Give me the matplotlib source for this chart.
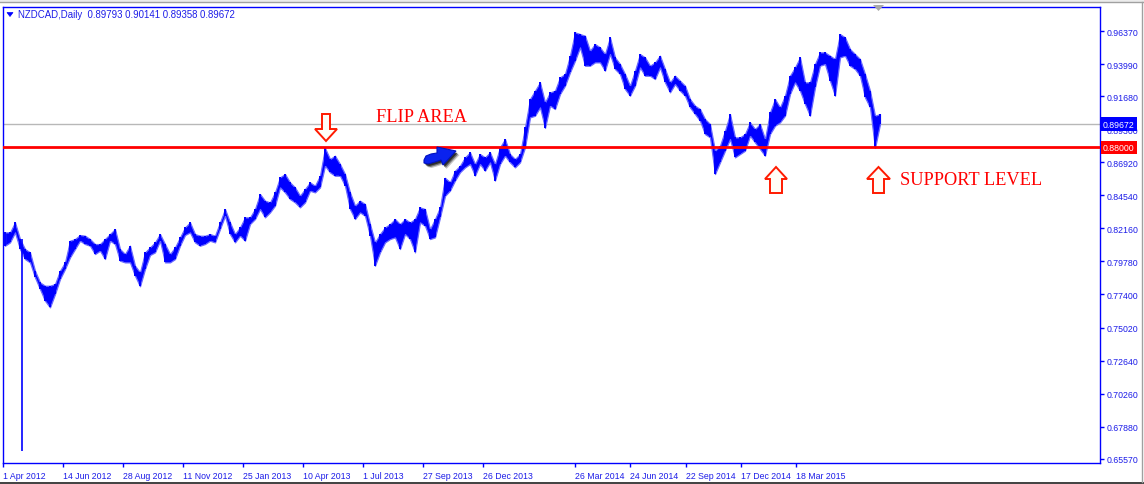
import matplotlib
matplotlib.use('Agg')
import matplotlib.pyplot as plt
import numpy as np
from matplotlib.patches import Polygon, Rectangle
from matplotlib.lines import Line2D
from matplotlib import font_manager

# ---- data (NZDCAD daily, resampled: high / low per group of bars) ----
highs = [0.8187, 0.8187, 0.8259, 0.8139, 0.8067, 0.8043, 0.7911, 0.7827, 0.7803, 0.7803,
         0.7815, 0.7911, 0.7971, 0.8127, 0.8139, 0.8168, 0.8163, 0.8139, 0.8103, 0.8103,
         0.8139, 0.8175, 0.8211, 0.8067, 0.8031, 0.8091, 0.7947, 0.7899, 0.8043, 0.8079,
         0.8115, 0.8175, 0.8103, 0.8031, 0.8079, 0.8151, 0.8223, 0.8259, 0.8175, 0.8163,
         0.8163, 0.8175, 0.8163, 0.8259,
         0.8355, 0.8259, 0.8175, 0.8223, 0.8295, 0.8295, 0.8355, 0.8463, 0.8415, 0.8403,
         0.8475, 0.8583, 0.8607, 0.8547, 0.8511, 0.8451, 0.8499, 0.8547, 0.8523, 0.8595,
         0.8795, 0.8715, 0.8739, 0.8679, 0.8607, 0.8475, 0.8379, 0.8415, 0.8391, 0.8247,
         0.8115, 0.8175, 0.8223, 0.8247, 0.8283, 0.8247, 0.8283, 0.8259, 0.8283, 0.8367,
         0.8355, 0.8211, 0.8283, 0.8367,
         0.8580, 0.8548, 0.8631, 0.8667, 0.8727, 0.8763, 0.8679, 0.8751, 0.8727, 0.8763,
         0.8679, 0.8799, 0.8859, 0.8751, 0.8715, 0.8751, 0.8943, 0.9147, 0.9207, 0.9267,
         0.9123, 0.9195, 0.9207, 0.9303, 0.9327, 0.9459, 0.9627, 0.9615, 0.9603, 0.9495,
         0.9543, 0.9519, 0.9471, 0.9591, 0.9447, 0.9399, 0.9327, 0.9243, 0.9351, 0.9471,
         0.9447, 0.9387, 0.9411, 0.9459,
         0.9363, 0.9267, 0.9315, 0.9279, 0.9243, 0.9147, 0.9099, 0.9075, 0.9003, 0.8967,
         0.8775, 0.8811, 0.8919, 0.9039, 0.8871, 0.8871, 0.8895, 0.8979, 0.8931, 0.8967,
         0.8859, 0.9051, 0.9147, 0.9087, 0.9171, 0.9315, 0.9375, 0.9447, 0.9267, 0.9267,
         0.9399, 0.9483, 0.9483, 0.9459, 0.9435, 0.9615, 0.9591, 0.9507, 0.9471, 0.9435,
         0.9327, 0.9207, 0.9027, 0.9039]
lows = [0.8091, 0.8115, 0.8187, 0.8067, 0.7995, 0.7971, 0.7863, 0.7779, 0.7695, 0.7647,
        0.7743, 0.7851, 0.7923, 0.8007, 0.8067, 0.8127, 0.8103, 0.8091, 0.8031, 0.8055,
        0.7995, 0.8127, 0.8103, 0.7983, 0.7971, 0.7971, 0.7875, 0.7799, 0.7923, 0.8024,
        0.8043, 0.8127, 0.7971, 0.7971, 0.7995, 0.8091, 0.8168, 0.8187, 0.8115, 0.8091,
        0.8103, 0.8127, 0.8115, 0.8211,
        0.8307, 0.8175, 0.8115, 0.8163, 0.8127, 0.8247, 0.8283, 0.8355, 0.8295, 0.8331,
        0.8379, 0.8511, 0.8475, 0.8427, 0.8403, 0.8367, 0.8403, 0.8487, 0.8475, 0.8511,
        0.8667, 0.8619, 0.8595, 0.8595, 0.8523, 0.8355, 0.8283, 0.8331, 0.8307, 0.8163,
        0.7947, 0.8043, 0.8115, 0.8139, 0.8151, 0.8067, 0.8175, 0.8139, 0.8043, 0.8259,
        0.8235, 0.8139, 0.8151, 0.8295,
        0.8450, 0.8488, 0.8560, 0.8620, 0.8655, 0.8679, 0.8596, 0.8679, 0.8631, 0.8691,
        0.8560, 0.8679, 0.8739, 0.8691, 0.8655, 0.8691, 0.8799, 0.9015, 0.9027, 0.9087,
        0.8939, 0.9099, 0.9075, 0.9183, 0.9243, 0.9339, 0.9423, 0.9519, 0.9387, 0.9387,
        0.9411, 0.9411, 0.9351, 0.9471, 0.9363, 0.9327, 0.9219, 0.9171, 0.9243, 0.9375,
        0.9315, 0.9315, 0.9291, 0.9375,
        0.9267, 0.9195, 0.9255, 0.9207, 0.9171, 0.9087, 0.9039, 0.8991, 0.8895, 0.8871,
        0.8607, 0.8691, 0.8775, 0.8859, 0.8727, 0.8751, 0.8775, 0.8883, 0.8835, 0.8787,
        0.8739, 0.8895, 0.8955, 0.8979, 0.9027, 0.9183, 0.9267, 0.9207, 0.9111, 0.9027,
        0.9231, 0.9387, 0.9399, 0.9279, 0.9171, 0.9447, 0.9459, 0.9387, 0.9363, 0.9315,
        0.9159, 0.9087, 0.8795, 0.8967]
bar_index = np.arange(1, len(highs) + 1)

# bad tick in the first days of the history
glitch_bar = 4.4
glitch_high = 0.8139
glitch_low = 0.6613

support_level = 0.88000
last_price = 0.89672
header = "NZDCAD,Daily  0.89793 0.90141 0.89358 0.89672"

price_ticks = [0.96370, 0.93990, 0.91680, 0.89300, 0.86920, 0.84540, 0.82160,
               0.79780, 0.77400, 0.75020, 0.72640, 0.70260, 0.67880, 0.65570]
date_tick_bars = [0.6, 12.6, 24.6, 36.6, 48.6, 60.6, 72.6, 84.6, 96.6,
                  115.0, 126.0, 137.2, 148.2, 159.2]
date_labels = ['1 Apr 2012', '14 Jun 2012', '28 Aug 2012', '11 Nov 2012',
               '25 Jan 2013', '10 Apr 2013', '1 Jul 2013', '27 Sep 2013',
               '26 Dec 2013', '26 Mar 2014', '24 Jun 2014', '22 Sep 2014',
               '17 Dec 2014', '18 Mar 2015']

# ---- fonts: narrow sans for axis labels if available ----
_names = {f.name for f in font_manager.fontManager.ttflist}
if 'Liberation Sans Narrow' in _names:
    TICK_FONT, TICK_FS = 'Liberation Sans Narrow', 7.4
else:
    TICK_FONT, TICK_FS = 'Liberation Sans', 6.3

# ---- figure ----
W, H = 1144, 485
fig = plt.figure(figsize=(W / 100, H / 100), dpi=100)
fig.patch.set_facecolor('white')


def P(x, y):
    return (x / W, 1 - y / H)


ax = fig.add_axes([3 / W, 1 - 464 / H, 1097 / W, 456 / H])
ax.set_facecolor('white')
ax.set_xlim(0.6, 220)
ax.set_ylim(0.65266, 0.98098)

BLUE = '#0000ff'
TXT = '#1c1ce8'

ax.fill_between(bar_index, lows, highs, facecolor=BLUE, edgecolor='#6a6aff',
                lw=0.9, zorder=3)
ax.vlines(bar_index, lows, highs, color=BLUE, lw=1.4, zorder=4)
ax.vlines([glitch_bar], [glitch_low], [glitch_high], color=BLUE, lw=1.2, zorder=4)

ax.axhline(last_price, color='#b8b8b8', lw=1, zorder=2)
ax.axhline(support_level, color='#ff0000', lw=2, zorder=5)

for s in ax.spines.values():
    s.set_color(BLUE)
    s.set_linewidth(1)

ax.yaxis.tick_right()
ax.set_yticks(price_ticks)
ax.set_yticklabels([f'{v:.5f}' for v in price_ticks])
ax.tick_params(axis='y', direction='out', length=3, width=1, color=BLUE,
               labelcolor=TXT, labelsize=TICK_FS, pad=2)
for lbl in ax.get_yticklabels():
    lbl.set_family(TICK_FONT)

ax.set_xticks(date_tick_bars)
ax.set_xticklabels(date_labels)
ax.tick_params(axis='x', direction='out', length=3, width=1, color=BLUE,
               labelcolor=TXT, labelsize=TICK_FS, pad=2.5)
for lbl in ax.get_xticklabels():
    lbl.set_ha('left')
    lbl.set_family(TICK_FONT)

# price tags on right axis (they cover the 0.89300 label, as in the terminal)
for price, col in [(last_price, '#0000ff'), (support_level, '#ff0000')]:
    ax.annotate(f'{price:.5f}', xy=(1, price), xycoords=('axes fraction', 'data'),
                xytext=(3, 0), textcoords='offset pixels', va='center', ha='left',
                color='white', fontsize=TICK_FS, family=TICK_FONT,
                bbox=dict(boxstyle='square,pad=0.25', fc=col, ec='none'),
                zorder=20, annotation_clip=False)

# header
fig.text(*P(18, 15.5), header, color=TXT, fontsize=6.9, family='Liberation Sans',
         va='center', ha='left')
fig.patches.append(Polygon([P(7, 13.5), P(13, 13.5), P(10, 17.5)], closed=True,
                           transform=fig.transFigure, fc=BLUE, ec=BLUE, lw=0.5))

# grey shift marker
fig.patches.append(Polygon([P(873, 6), P(884, 6), P(878.5, 12)], closed=True,
                           transform=fig.transFigure, fc='#a8a8a8', ec='none'))

# window chrome
fig.patches.append(Rectangle(P(0, 2.5), 1, 2.5 / H, transform=fig.transFigure,
                             fc='#ececec', ec='none'))
fig.add_artist(Line2D([0, 1], [1 - 2.5 / H] * 2, transform=fig.transFigure,
                      color='#a0a0a0', lw=1))
fig.add_artist(Line2D([0, 1], [1 - 483.5 / H] * 2, transform=fig.transFigure,
                      color='#202020', lw=1.2))
fig.add_artist(Line2D([1141.5 / W] * 2, [1 - 2.5 / H, 1 - 483 / H],
                      transform=fig.transFigure, color='#a0a0a0', lw=1))


# hollow red arrows
def hollow(pts):
    fig.patches.append(Polygon([P(x, y) for x, y in pts], closed=True,
                               transform=fig.transFigure, fc='#fffdf6',
                               ec='#ff1a00', lw=1.4, joinstyle='miter'))


hollow([(322, 115), (330, 115), (330, 130), (337, 130), (326, 142), (315, 130), (322, 130)])
hollow([(776, 168), (787, 180), (782, 180), (782, 194), (770, 194), (770, 180), (765, 180)])
hollow([(878.5, 168), (890, 180), (884, 180), (884, 194), (873, 194), (873, 180), (867, 180)])

# blue pointer arrow with soft shadow
blue_arrow = [(424, 161), (426, 157), (431, 155), (437, 154), (437, 148), (456, 152),
              (443, 166), (441, 161), (435, 163), (428, 165), (424, 164)]
for dx, dy, a in [(3.5, 4.0, 0.25), (2.5, 3.0, 0.45), (1.5, 2.0, 0.7)]:
    fig.patches.append(Polygon([P(x + dx, y + dy) for x, y in blue_arrow], closed=True,
                               transform=fig.transFigure, fc='#111111', ec='none',
                               alpha=a))
fig.patches.append(Polygon([P(x, y) for x, y in blue_arrow], closed=True,
                           transform=fig.transFigure, fc='#0a22ee', ec='#0010c0', lw=0.8))

# labels
fig.text(*P(376, 122), 'FLIP AREA', color='#ff0000', fontsize=13.2,
         family='Liberation Serif', va='baseline', ha='left')
fig.text(*P(900, 185), 'SUPPORT LEVEL', color='#ff0000', fontsize=13.2,
         family='Liberation Serif', va='baseline', ha='left')

fig.savefig('out.png', dpi=100, facecolor='white')
